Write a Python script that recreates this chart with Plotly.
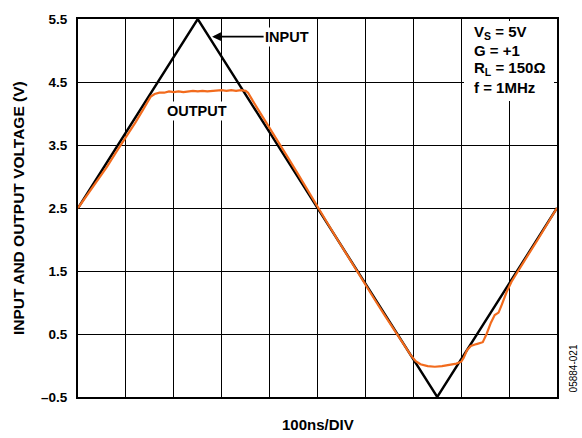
import plotly.graph_objects as go

# Time axis in ns (100 ns/DIV, 10 divisions)
input_t = [0, 250, 750, 1000]
input_v = [2.5, 5.5, -0.5, 2.5]

output_t = [0, 20, 40, 60, 80, 100, 120, 135, 145, 152, 160, 170,
            180, 190, 200, 210, 220, 230, 240, 250, 260, 270, 280, 290,
            300, 310, 320, 330, 340, 350, 355,
            365, 380, 400, 420, 440, 460, 480, 500, 520, 540, 560, 580,
            600, 620, 640, 660, 680, 695, 705, 715, 730, 745, 760, 775,
            790, 800, 805, 812, 820, 832, 845, 853, 862, 870, 878, 885,
            895, 905, 920, 940, 960, 980, 1000]
output_v = [2.5, 2.71, 2.93, 3.15, 3.39, 3.62, 3.86, 4.05, 4.19, 4.27, 4.31, 4.33,
            4.33, 4.35, 4.34, 4.35, 4.34, 4.35, 4.36, 4.35, 4.36, 4.35, 4.36, 4.36,
            4.37, 4.36, 4.37, 4.36, 4.37, 4.36, 4.33,
            4.2, 4.02, 3.78, 3.53, 3.28, 3.03, 2.77, 2.52, 2.27, 2.02, 1.77, 1.52,
            1.28, 1.04, 0.8, 0.56, 0.32, 0.16, 0.07, 0.02, -0.01, -0.02, -0.01, 0.01,
            0.03, 0.06, 0.12, 0.24, 0.31, 0.34, 0.37, 0.5, 0.68, 0.8, 0.84, 0.97,
            1.17, 1.33, 1.52, 1.76, 2.0, 2.25, 2.5]

y_ticks = [-0.5, 0.5, 1.5, 2.5, 3.5, 4.5, 5.5]
y_ticktext = ["\u20130.5", "0.5", "1.5", "2.5", "3.5", "4.5", "5.5"]
x_grid = [0, 100, 200, 300, 400, 500, 600, 700, 800, 900, 1000]

conditions = ["V<sub>S</sub> = 5V", "G = +1", "R<sub>L</sub> = 150\u03a9", "f = 1MHz"]

FONT = "Arial, Liberation Sans, Helvetica, sans-serif"
ORANGE = "#F26B1D"

fig = go.Figure()
fig.add_trace(go.Scatter(x=input_t, y=input_v, mode="lines",
                         line=dict(color="black", width=2.4), showlegend=False,
                         hoverinfo="skip"))
fig.add_trace(go.Scatter(x=output_t, y=output_v, mode="lines",
                         line=dict(color=ORANGE, width=2.2), showlegend=False,
                         hoverinfo="skip"))

L, R, T, B = 78, 25, 14, 41
W, H = 582, 438
pw, ph = W - L - R, H - T - B

def px(p):
    return (p - L) / pw

def py(p):
    return (H - B - p) / ph

fig.update_layout(
    width=W, height=H,
    margin=dict(l=L, r=R, t=T, b=B, pad=0),
    paper_bgcolor="white", plot_bgcolor="white",
    font=dict(family=FONT, color="black"),
    xaxis=dict(range=[0, 1000], tickvals=x_grid, showticklabels=False,
               showgrid=True, gridcolor="black", gridwidth=1.4,
               showline=True, linecolor="black", linewidth=2, mirror=True,
               zeroline=False, ticks=""),
    yaxis=dict(range=[-0.5, 5.5], tickvals=y_ticks, ticktext=y_ticktext,
               showgrid=True, gridcolor="black", gridwidth=1.4,
               showline=True, linecolor="black", linewidth=2, mirror=True,
               zeroline=False, ticks="", ticklabelstandoff=6,
               tickfont=dict(family=FONT, size=13.5, weight="bold")),
)

# white box behind the conditions text
fig.add_shape(type="rect", xref="paper", yref="paper",
              x0=px(464), x1=px(554), y0=py(97), y1=py(16),
              fillcolor="white", line=dict(width=0), layer="above")

ann = []
ys = [28, 46, 64, 83]
for txt, yy in zip(conditions, ys):
    ann.append(dict(xref="paper", yref="paper", x=px(472), y=py(yy),
                    xanchor="left", yanchor="middle", text="<b>" + txt + "</b>",
                    showarrow=False, font=dict(family=FONT, size=15)))

# INPUT label with arrow
ann.append(dict(xref="x", yref="y", x=280, y=5.22, ax=75, ay=0,
                text="<b>INPUT</b>", showarrow=True, arrowhead=2,
                arrowsize=1.1, arrowwidth=1.6, arrowcolor="black",
                standoff=0, bgcolor="white", borderpad=1,
                font=dict(family=FONT, size=14.5)))
# OUTPUT label
ann.append(dict(xref="x", yref="y", x=249, y=4.04, text="<b>OUTPUT</b>",
                showarrow=False, bgcolor="white", borderpad=1,
                font=dict(family=FONT, size=14.5)))
# axis titles
ann.append(dict(xref="paper", yref="paper", x=px(18), y=0.5,
                text="<b>INPUT AND OUTPUT VOLTAGE (V)</b>", textangle=-90,
                showarrow=False, xanchor="center", yanchor="middle",
                font=dict(family=FONT, size=15.5)))
ann.append(dict(xref="paper", yref="paper", x=px(318), y=py(425),
                text="<b>100ns/DIV</b>", showarrow=False,
                xanchor="center", yanchor="middle",
                font=dict(family=FONT, size=15)))
ann.append(dict(xref="paper", yref="paper", x=px(573), y=py(368),
                text="05884-021", textangle=-90, showarrow=False,
                xanchor="center", yanchor="middle",
                font=dict(family=FONT, size=10)))
fig.update_layout(annotations=ann)

fig.write_html("out.html", config={"displayModeBar": False},
               post_script="document.body.style.margin='0px';document.body.style.padding='0px';")
